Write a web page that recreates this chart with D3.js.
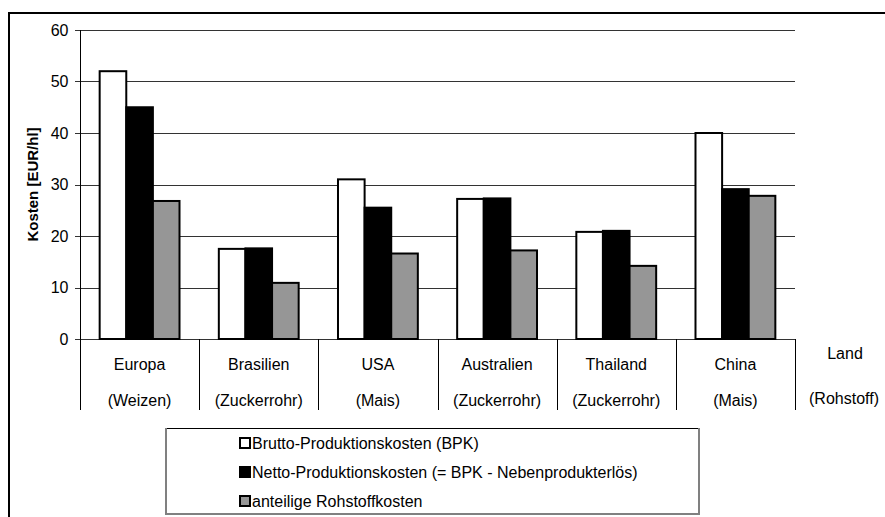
<!DOCTYPE html>
<html>
<head>
<meta charset="utf-8">
<script src="https://cdn.jsdelivr.net/npm/d3@7"></script>
<style>
  html, body { margin: 0; padding: 0; background: #fff; }
  svg { display: block; font-family: Arial, "Liberation Sans", sans-serif; }
</style>
</head>
<body>
<svg id="chart" width="885" height="517"></svg>
<script>
const countries = ["Europa", "Brasilien", "USA", "Australien", "Thailand", "China"];
const rawMaterials = ["(Weizen)", "(Zuckerrohr)", "(Mais)", "(Zuckerrohr)", "(Zuckerrohr)", "(Mais)"];
const seriesNames = [
  "Brutto-Produktionskosten (BPK)",
  "Netto-Produktionskosten (= BPK - Nebenprodukterlös)",
  "anteilige Rohstoffkosten"
];
const brutto = [52, 17.5, 31, 27.2, 20.8, 40];
const netto = [45, 17.6, 25.5, 27.3, 21, 29.1];
const rohstoff = [26.8, 10.9, 16.6, 17.2, 14.2, 27.8];
const yTicks = [0, 10, 20, 30, 40, 50, 60];
const yLabel = "Kosten [EUR/hl]";
const extraLabel = ["Land", "(Rohstoff)"];

const seriesValues = [brutto, netto, rohstoff];
const colors = ["#ffffff", "#000000", "#969696"];

(function () {
const svg = d3.select("#chart");

// outer frame (extends beyond the view)
svg.append("rect").attr("x", 9).attr("y", 13).attr("width", 1000).attr("height", 700)
  .attr("fill", "none").attr("stroke", "#000").attr("stroke-width", 2);

const pL = 80, pR = 795, pT = 30, pB = 339;
const x0 = d3.scaleBand().domain(countries).range([pL, pR]).paddingInner(0).paddingOuter(0);
const groupPad = 0.165;
const x1 = d3.scaleBand().domain(d3.range(3)).range([x0.bandwidth() * groupPad, x0.bandwidth() * (1 - groupPad)]);
const y = d3.scaleLinear().domain([0, 60]).range([pB, pT]);

// gridlines
svg.append("g").selectAll("line").data(yTicks).join("line")
  .attr("x1", pL - 5).attr("x2", pR)
  .attr("y1", d => Math.round(y(d)) + 0.5).attr("y2", d => Math.round(y(d)) + 0.5)
  .attr("stroke", "#333").attr("stroke-width", 1);

// y axis
const yAxis = d3.axisLeft(y).tickValues(yTicks).tickSize(0).tickPadding(12);
const gy = svg.append("g").attr("transform", `translate(${pL + 0.5},0)`).call(yAxis);
gy.select(".domain").remove();
gy.selectAll("text").attr("font-size", 16).attr("fill", "#000").attr("font-family", "Arial, 'Liberation Sans', sans-serif");

svg.append("line").attr("x1", pL + 0.5).attr("x2", pL + 0.5).attr("y1", pT).attr("y2", 410)
  .attr("stroke", "#000").attr("stroke-width", 1);

// category separators
const seps = countries.map(c => x0(c) + x0.bandwidth());
svg.append("g").selectAll("line").data(seps).join("line")
  .attr("x1", d => Math.round(d) + 0.5).attr("x2", d => Math.round(d) + 0.5)
  .attr("y1", pB).attr("y2", 410)
  .attr("stroke", "#000").attr("stroke-width", 1);

// bars
const groups = svg.append("g").selectAll("g").data(countries).join("g")
  .attr("transform", c => `translate(${x0(c)},0)`);
groups.selectAll("rect").data((c, i) => seriesValues.map((s, k) => ({k, v: s[i]}))).join("rect")
  .attr("x", d => x1(d.k))
  .attr("width", x1.bandwidth())
  .attr("y", d => y(d.v))
  .attr("height", d => y(0) - y(d.v))
  .attr("fill", d => colors[d.k])
  .attr("stroke", "#000").attr("stroke-width", 2);

// category labels
const lab = svg.append("g").attr("font-size", 16).attr("text-anchor", "middle");
lab.selectAll("text.c").data(countries).join("text").attr("class", "c")
  .attr("x", c => x0(c) + x0.bandwidth() / 2).attr("y", 370).text(c => c);
lab.selectAll("text.r").data(rawMaterials).join("text").attr("class", "r")
  .attr("x", (r, i) => x0(countries[i]) + x0.bandwidth() / 2).attr("y", 406).text(r => r);
lab.append("text").attr("x", 845).attr("y", 359).text(extraLabel[0]);
lab.append("text").attr("x", 844).attr("y", 404).text(extraLabel[1]);

// y label
svg.append("text").attr("transform", `translate(38,${(pT + pB) / 2}) rotate(-90)`)
  .attr("text-anchor", "middle").attr("font-size", 15).attr("font-weight", "bold")
  .text(yLabel);

// legend
const lg = svg.append("g");
const lx = 165, ly = 428, lw = 535, lh = 87;
lg.append("rect").attr("x", lx).attr("y", ly).attr("width", lw).attr("height", lh)
  .attr("fill", "#fff").attr("stroke", "none");
lg.append("line").attr("x1", lx).attr("x2", lx + lw).attr("y1", ly + 0.5).attr("y2", ly + 0.5).attr("stroke", "#000");
lg.append("line").attr("x1", lx + 1).attr("x2", lx + 1).attr("y1", ly).attr("y2", ly + lh).attr("stroke", "#808080").attr("stroke-width", 2);
lg.append("line").attr("x1", lx).attr("x2", lx + lw).attr("y1", ly + lh - 1).attr("y2", ly + lh - 1).attr("stroke", "#808080").attr("stroke-width", 2);
lg.append("line").attr("x1", lx + lw - 1).attr("x2", lx + lw - 1).attr("y1", ly).attr("y2", ly + lh).attr("stroke", "#808080").attr("stroke-width", 2);
const rowY = d3.scalePoint().domain(d3.range(3)).range([443, 501]);
const items = lg.selectAll("g").data(seriesNames).join("g")
  .attr("transform", (d, i) => `translate(0,${rowY(i)})`);
items.append("rect").attr("x", 240).attr("y", -5).attr("width", 10).attr("height", 10)
  .attr("fill", (d, i) => colors[i]).attr("stroke", "#000").attr("stroke-width", 2);
items.append("text").attr("x", 252).attr("y", 6).attr("font-size", 16).text(d => d);
})();
</script>
</body>
</html>
